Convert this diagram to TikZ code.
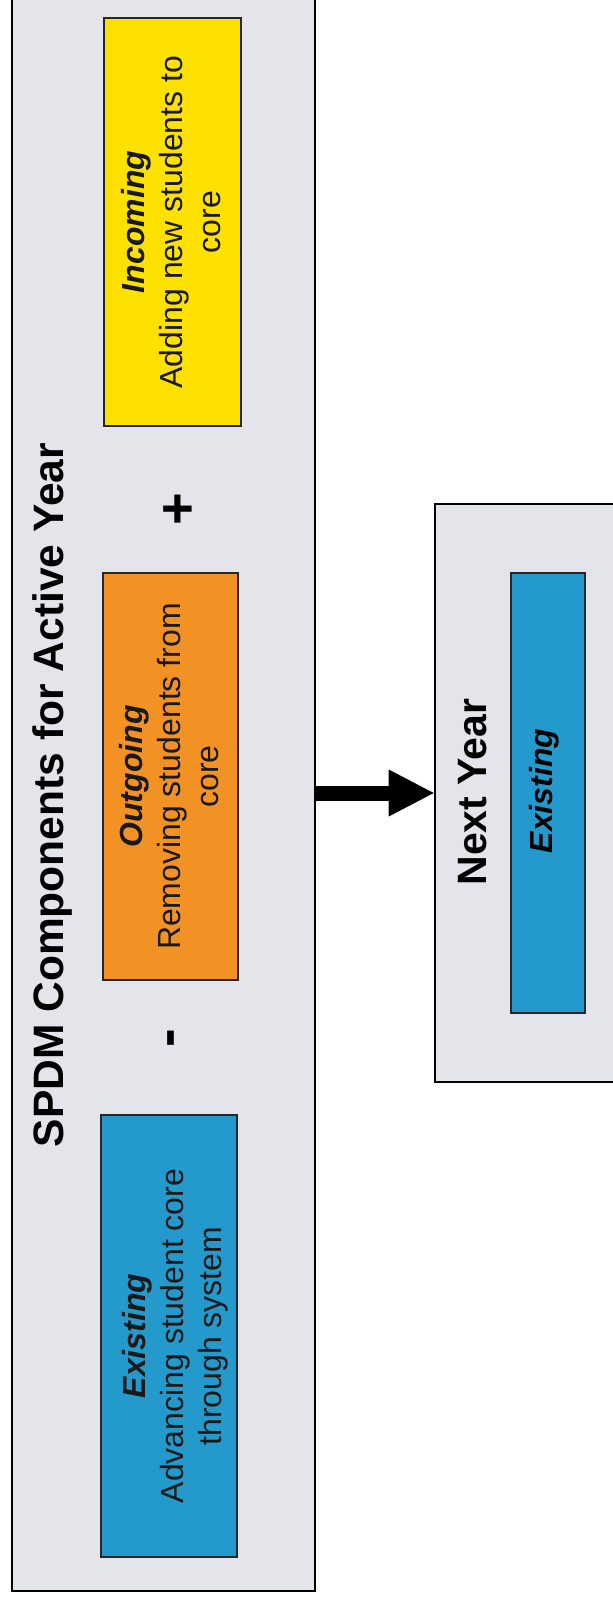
\documentclass[tikz,border=0pt]{standalone}
\usepackage{fontspec}
\setmainfont{Liberation Sans}
\usetikzlibrary{fit,arrows.meta}
\definecolor{panelgray}{HTML}{E3E5EB}
\definecolor{coreblue}{HTML}{2499CC}
\definecolor{outorange}{HTML}{F29224}
\definecolor{inyellow}{HTML}{FFE100}
\tikzset{
  panel/.style={draw=black, line width=1.9pt, fill=panelgray, inner sep=0pt},
  compbox/.style={draw=black!85, line width=1.1pt, inner sep=0pt},
  boxtext/.style={rotate=90, align=center, inner sep=0pt, text=black!90,
    font=\fontsize{24}{28.5}\selectfont},
  headtext/.style={rotate=90, anchor=base, inner sep=0pt, font=\bfseries\fontsize{31.9}{36}\selectfont},
  signtext/.style={rotate=90, anchor=base, inner sep=0pt, font=\bfseries\fontsize{42}{48}\selectfont},
}
\begin{document}
\begin{tikzpicture}[x=0.75pt, y=-0.75pt]
\useasboundingbox (0,0) rectangle (613,1600);
\clip (0,0) rectangle (613,1600);
\fill[white] (0,0) rectangle (613,1600);
% active year panel
\node[panel, fit={(12,-20) (315,1591)}] (active) {};
\node[headtext] (title) at (63,795) {SPDM Components for Active Year};
% component boxes
\node[compbox, fill=inyellow, fit={(104,18) (241,426)}] (incoming) {};
\node[compbox, fill=outorange, fit={(103,573) (238,980)}] (outgoing) {};
\node[compbox, fill=coreblue, fit={(101,1115) (237,1557)}] (existing) {};
\node[boxtext] (incomingtxt) at (171.5,222) {{\bfseries\itshape Incoming}\\Adding new students to\\core};
\node[boxtext] (outgoingtxt) at (169.5,776.5) {{\bfseries\itshape Outgoing}\\Removing students from\\core};
\node[boxtext] (existingtxt) at (175,1336) {{\bfseries\itshape Existing}\\Advancing student core\\through system};
\node[signtext] (plus) at (196,509) {+};
\node[signtext] (minus) at (185,1038.5) {-};
% next year panel
\node[panel, fit={(435,504) (660,1082)}] (next) {};
\node[headtext, font=\bfseries\fontsize{30.75}{36}\selectfont] (nexttitle) at (486,792) {Next Year};
\node[compbox, fill=coreblue, fit={(511,573) (585,1013)}] (nextexisting) {};
\node[rotate=90, anchor=base, inner sep=0pt, font=\bfseries\itshape\fontsize{24}{28.5}\selectfont] (nextexistingtxt) at (552,791) {Existing};
% arrow
\draw[line width=11.25pt, -{Triangle[width=35.25pt, length=33.75pt, line width=0pt]}]
  (active.east |- next.west) -- (next.west);
\end{tikzpicture}
\end{document}
